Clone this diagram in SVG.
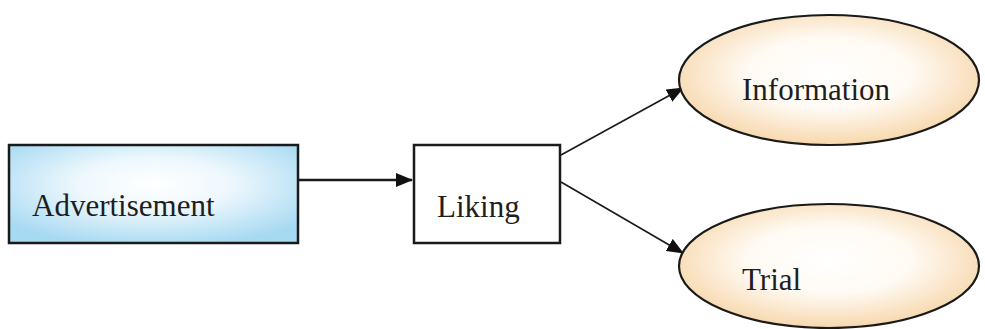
<svg xmlns="http://www.w3.org/2000/svg" width="985" height="329" viewBox="0 0 985 329">
  <style>
    .box { stroke: #1a1a1a; stroke-width: 2.5; }
    .oval { stroke: #1a1a1a; stroke-width: 2.2; }
    .label { font-family: "Liberation Serif", "Times New Roman", serif; font-size: 31px; fill: #1e1e1e; }
    .edge { stroke: #1a1a1a; stroke-width: 1.6; fill: none; marker-end: url(#arrow); }
    .edge.main { stroke-width: 2.6; }
  </style>
  <defs>
    <radialGradient id="blueFill" cx="0.5" cy="0.4" r="0.65">
      <stop offset="0" stop-color="#ffffff"/>
      <stop offset="0.4" stop-color="#eef8fd"/>
      <stop offset="1" stop-color="#a6d9f2"/>
    </radialGradient>
    <radialGradient id="peachFill" cx="0.5" cy="0.45" r="0.55">
      <stop offset="0" stop-color="#ffffff"/>
      <stop offset="0.5" stop-color="#fffaf3"/>
      <stop offset="1" stop-color="#f7d8ae"/>
    </radialGradient>
    <marker id="arrow" viewBox="0 0 17 14" refX="16" refY="7" markerWidth="17" markerHeight="14" markerUnits="userSpaceOnUse" orient="auto">
      <path d="M0,0 L17,7 L0,14 Z" fill="#111"/>
    </marker>
  </defs>

  <g id="connectors">
    <line class="edge main" x1="299" y1="180" x2="412" y2="180"/>
    <line class="edge" x1="561" y1="155" x2="683" y2="88"/>
    <line class="edge" x1="561" y1="182" x2="683" y2="253"/>
  </g>

  <g id="advertisement">
    <rect class="box" x="9" y="145" width="289" height="98" fill="url(#blueFill)"/>
    <text class="label" x="32" y="216">Advertisement</text>
  </g>

  <g id="liking">
    <rect class="box" x="414" y="145" width="146" height="98" fill="#ffffff"/>
    <text class="label" x="437" y="217">Liking</text>
  </g>

  <g id="information">
    <ellipse class="oval" cx="829" cy="80" rx="150" ry="65" fill="url(#peachFill)"/>
    <text class="label" x="742" y="100">Information</text>
  </g>

  <g id="trial">
    <ellipse class="oval" cx="829" cy="266" rx="150" ry="62" fill="url(#peachFill)"/>
    <text class="label" x="742" y="290">Trial</text>
  </g>
</svg>
